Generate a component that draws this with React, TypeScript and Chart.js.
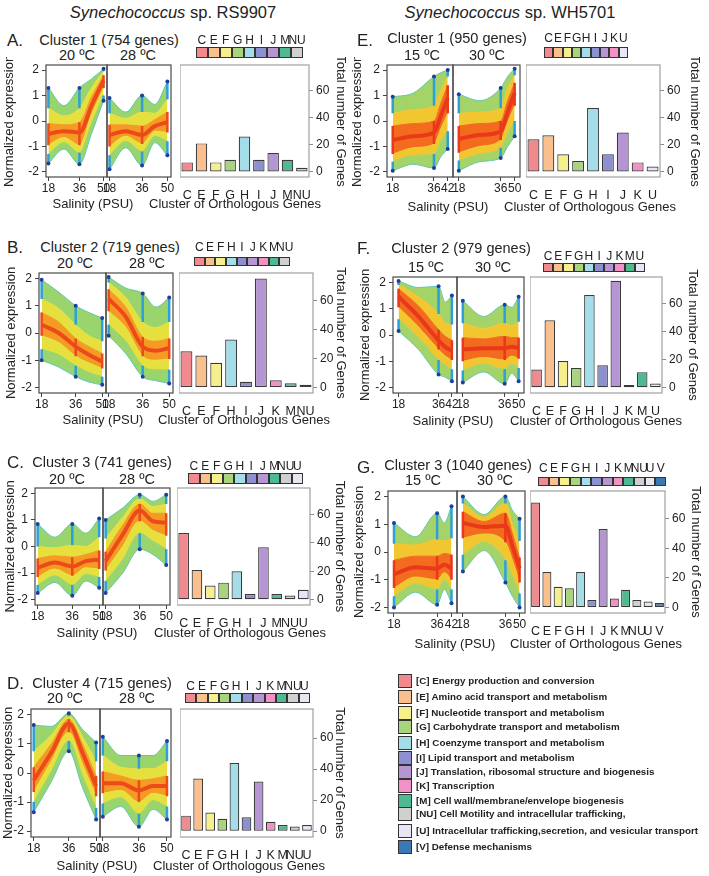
import React, { useEffect, useRef } from 'react';
import { Chart, registerables } from 'chart.js';

Chart.register(...registerables);
const FONT = '"Liberation Sans", Arial, Helvetica, sans-serif';
Chart.defaults.font.family = FONT;
Chart.defaults.color = '#222';

// ---------------- data ----------------
const xSalAD = [18, 27, 36, 43, 50];
const xSalEG = [18, 27, 36, 39, 42];
const tickSalAD = [18, 36, 50];
const tickSalEG = [18, 36, 42];
const lblSalAD = ['18', '36', '50'];
const lblSalEGLeft = ['18', '36', '42'];
const lblSalEGRight = ['18', '36', '50'];
const yExprTicks = [-2, -1, 0, 1, 2];
const yGeneTicks = [0, 20, 40, 60];

// envelope rows: min, low-outer, low-inner, centre, high-inner, high-outer, max
const envA20 = [
  [-1.67, -1.1, -1.7, -0.5, 0.8],
  [-1.3, -0.85, -1.25, -0.1, 1.0],
  [-0.95, -0.65, -0.95, 0.25, 1.3],
  [-0.5, -0.4, -0.45, 0.6, 1.6],
  [-0.1, -0.15, -0.05, 0.95, 1.8],
  [0.5, 0.2, 0.5, 1.3, 1.95],
  [1.3, 0.6, 1.3, 1.65, 2.05],
];
const envA28 = [
  [-1.9, -1.05, -1.75, -0.85, -1.35],
  [-1.35, -0.8, -1.2, -0.6, -0.8],
  [-1.0, -0.6, -0.9, -0.4, -0.45],
  [-0.55, -0.4, -0.55, -0.2, -0.05],
  [-0.15, -0.15, -0.2, 0.05, 0.35],
  [0.3, 0.1, 0.35, 0.3, 0.85],
  [0.9, 0.35, 1.0, 0.65, 1.55],
];
const envB20 = [
  [-1.0, -1.25, -1.6, -1.8, -1.9],
  [-0.6, -0.8, -1.2, -1.45, -1.6],
  [-0.1, -0.35, -0.85, -1.1, -1.3],
  [0.3, 0.0, -0.5, -0.8, -1.05],
  [0.75, 0.4, -0.2, -0.5, -0.75],
  [1.25, 0.9, 0.3, -0.1, -0.3],
  [1.95, 1.5, 1.0, 0.75, 0.55],
];
const envB28 = [
  [-0.1, -0.75, -1.6, -1.75, -1.85],
  [0.3, -0.3, -1.2, -1.35, -1.35],
  [0.8, 0.2, -0.85, -1.0, -0.95],
  [1.25, 0.6, -0.5, -0.65, -0.55],
  [1.6, 0.95, -0.15, -0.3, -0.2],
  [1.85, 1.3, 0.4, 0.2, 0.4],
  [2.05, 1.65, 1.45, 0.95, 1.3],
];
const envC20 = [
  [-1.75, -1.35, -1.85, -1.3, -1.55],
  [-1.45, -1.1, -1.45, -1.05, -1.15],
  [-1.15, -0.85, -1.1, -0.8, -0.85],
  [-0.8, -0.6, -0.75, -0.55, -0.5],
  [-0.45, -0.35, -0.4, -0.3, -0.15],
  [0.0, -0.05, 0.05, 0.0, 0.35],
  [0.85, 0.35, 0.85, 0.5, 1.05],
];
const envC28 = [
  [-1.75, -1.0, -0.1, -0.3, -0.7],
  [-1.3, -0.5, 0.5, 0.2, -0.1],
  [-0.9, 0.0, 0.95, 0.6, 0.4],
  [-0.55, 0.45, 1.35, 0.95, 0.9],
  [-0.2, 0.8, 1.6, 1.25, 1.25],
  [0.3, 1.1, 1.8, 1.5, 1.6],
  [1.0, 1.45, 1.95, 1.7, 1.95],
];
const envD20 = [
  [-1.35, -0.3, 0.75, -0.5, -1.6],
  [-1.0, 0.05, 1.1, -0.1, -1.2],
  [-0.65, 0.4, 1.4, 0.3, -0.8],
  [-0.25, 0.7, 1.7, 0.7, -0.45],
  [0.2, 1.0, 1.85, 1.0, -0.1],
  [0.75, 1.3, 1.95, 1.25, 0.4],
  [1.65, 1.6, 2.05, 1.5, 1.05],
];
const envD28 = [
  [-1.5, -1.15, -1.85, -1.25, -1.6],
  [-1.05, -0.85, -1.4, -0.95, -1.15],
  [-0.7, -0.6, -1.0, -0.7, -0.8],
  [-0.35, -0.35, -0.6, -0.45, -0.45],
  [0.05, -0.1, -0.25, -0.2, -0.1],
  [0.6, 0.2, 0.15, 0.15, 0.4],
  [1.25, 0.6, 0.6, 0.6, 1.1],
];
const envE15 = [
  [-1.95, -1.7, -1.85, -1.4, -1.1],
  [-1.6, -1.35, -1.3, -0.8, -0.4],
  [-1.3, -1.05, -0.9, -0.3, 0.3],
  [-0.75, -0.6, -0.45, 0.2, 0.9],
  [-0.2, -0.1, 0.0, 0.7, 1.4],
  [0.3, 0.45, 0.6, 1.2, 1.75],
  [0.95, 1.1, 1.75, 1.9, 2.0],
];
const envE30 = [
  [-1.95, -1.6, -1.45, -1.0, -0.6],
  [-1.55, -1.3, -1.05, -0.5, 0.0],
  [-1.25, -1.0, -0.75, -0.05, 0.6],
  [-0.7, -0.55, -0.4, 0.35, 1.1],
  [-0.2, -0.1, 0.0, 0.8, 1.5],
  [0.3, 0.35, 0.5, 1.3, 1.8],
  [1.05, 0.8, 1.3, 1.75, 2.05],
];
const envF15 = [
  [0.15, -0.55, -1.5, -1.6, -1.75],
  [0.6, -0.1, -0.95, -1.15, -1.3],
  [1.05, 0.3, -0.55, -0.8, -0.95],
  [1.45, 0.7, -0.2, -0.45, -0.6],
  [1.75, 1.1, 0.2, -0.05, -0.2],
  [1.9, 1.45, 0.8, 0.45, 0.4],
  [2.05, 1.8, 1.85, 1.25, 1.5],
];
const envF30 = [
  [-1.8, -1.4, -1.85, -1.45, -1.75],
  [-1.35, -1.1, -1.3, -1.1, -1.25],
  [-1.0, -0.85, -0.95, -0.8, -0.9],
  [-0.55, -0.5, -0.5, -0.45, -0.5],
  [-0.1, -0.15, -0.05, -0.1, -0.1],
  [0.45, 0.25, 0.45, 0.35, 0.5],
  [1.3, 0.7, 1.15, 1.05, 1.45],
];
const envG15 = [
  [-2.0, -1.45, -1.9, -1.35, -1.85],
  [-1.6, -1.15, -1.35, -1.0, -1.35],
  [-1.3, -0.9, -1.0, -0.75, -1.0],
  [-0.8, -0.55, -0.6, -0.45, -0.6],
  [-0.3, -0.15, -0.15, -0.05, -0.1],
  [0.3, 0.25, 0.45, 0.4, 0.5],
  [1.05, 0.55, 1.4, 1.05, 1.65],
];
const envG30 = [
  [-0.7, 0.05, -1.1, -1.6, -2.0],
  [-0.1, 0.35, -0.3, -0.9, -1.5],
  [0.5, 0.65, 0.35, -0.3, -1.1],
  [1.05, 0.9, 0.95, 0.2, -0.6],
  [1.45, 1.1, 1.4, 0.65, -0.2],
  [1.75, 1.25, 1.75, 1.0, 0.4],
  [2.0, 1.35, 2.0, 1.5, 1.2],
];

const catA = ['C', 'E', 'F', 'G', 'H', 'I', 'J', 'M', 'NU'];
const cntA = [7, 21, 7, 9, 26, 9, 14, 9, 3];
const catB = ['C', 'E', 'F', 'H', 'I', 'J', 'K', 'M', 'NU'];
const cntB = [25, 22, 17, 33, 4, 75, 5, 3, 2];
const catC = ['C', 'E', 'F', 'G', 'H', 'I', 'J', 'M', 'NU', 'U'];
const cntC = [47, 21, 10, 12, 20, 4, 37, 4, 3, 7];
const catD = ['C', 'E', 'F', 'G', 'H', 'I', 'J', 'K', 'M', 'NU', 'U'];
const cntD = [10, 34, 12, 8, 44, 9, 32, 6, 4, 3, 4];
const catE = ['C', 'E', 'F', 'G', 'H', 'I', 'J', 'K', 'U'];
const cntE = [24, 27, 13, 8, 47, 13, 29, 7, 4];
const catF = ['C', 'E', 'F', 'G', 'H', 'I', 'J', 'K', 'M', 'U'];
const cntF = [13, 48, 19, 14, 66, 16, 76, 2, 11, 3];
const catG = ['C', 'E', 'F', 'G', 'H', 'I', 'J', 'K', 'M', 'NU', 'U', 'V'];
const cntG = [71, 24, 14, 13, 24, 5, 53, 6, 12, 5, 4, 3];

const legendCodes = ['C', 'E', 'F', 'G', 'H', 'I', 'J', 'K', 'M', 'NU', 'U', 'V'];
const legendNames = [
  'Energy production and conversion',
  'Amino acid transport and metabolism',
  'Nucleotide transport and metabolism',
  'Carbohydrate transport and metabolism',
  'Coenzyme transport and metabolism',
  'Lipid transport and metabolism',
  'Translation, ribosomal structure and biogenesis',
  'Transcription',
  'Cell wall/membrane/envelope biogenesis',
  'Cell Motility and intracellular trafficking,',
  'Intracellular trafficking,secretion, and vesicular transport',
  'Defense mechanisms',
];

// ---------------- styles ----------------
const COG: Record<string, string> = {
  C: '#f08a8f', E: '#f9c08e', F: '#f6ef8e', G: '#a8d47e', H: '#a4dde8', I: '#8c8fd0',
  J: '#b696d2', K: '#f191c5', M: '#4fba91', NU: '#d0d0d0', U: '#e6e6f5', V: '#3c78b4',
};
const PAL_COOL = { outer: '#9ad46c', mid: '#e6e03e', inner: '#f59a22', core: '#ec4a1b' };
const PAL_WARM = { outer: '#a4d468', mid: '#f2c62e', inner: '#f36b1e', core: '#e9381a' };
const EDGE = '#63c6b2';
const STREAK_END = '#2f9fd8';
const DOT = '#1e3f9c';
const TXT = '#222';

const framePlugin = {
  id: 'frame',
  afterDatasetsDraw(chart: any, _a: any, opts: any) {
    const { ctx, chartArea } = chart;
    ctx.save();
    ctx.strokeStyle = opts.color || '#444';
    ctx.lineWidth = opts.width || 1.2;
    ctx.strokeRect(chartArea.left, chartArea.top, chartArea.right - chartArea.left, chartArea.bottom - chartArea.top);
    ctx.restore();
  },
};

function lineConfig(env: number[][], xs: number[], tickVals: number[], tickLbls: string[], xMin: number, xMax: number,
  showY: boolean, yAxisW: number, padL: number, padR: number, pal: any): any {
  const [mn, g1, y1, md, y2, g2, mx] = env;
  const pts = (arr: number[]) => xs.map((x, i) => ({ x, y: arr[i] }));
  const sample = [0, 2, 4];
  const streak = (lo: number[], hi: number[]) =>
    sample.flatMap((i) => [{ x: xs[i], y: lo[i] }, { x: xs[i], y: hi[i] }, { x: xs[i], y: null }]);
  const dotR = (c: any) => (sample.includes(c.dataIndex) ? 2 : 0);
  const band = (arr: number[], color: string, fill: any, extra: any = {}) => ({
    data: pts(arr), borderColor: color, backgroundColor: color, borderWidth: 1, fill,
    pointRadius: 0, cubicInterpolationMode: 'monotone', order: 10, ...extra,
  });
  const datasets = [
    band(mn, EDGE, false),
    band(g1, pal.outer, '-1'),
    band(y1, pal.mid, '-1'),
    band(md, pal.inner, '-1'),
    band(y2, pal.inner, '-1'),
    band(g2, pal.mid, '-1'),
    band(mx, pal.outer, '-1', { borderColor: EDGE }),
    { data: pts(md), borderColor: pal.core, borderWidth: 4, fill: false, pointRadius: 0, cubicInterpolationMode: 'monotone', order: 5 },
    { data: streak(mn, g1), borderColor: STREAK_END, borderWidth: 2.5, fill: false, pointRadius: 0, spanGaps: false, order: 3 },
    { data: streak(g2, mx), borderColor: STREAK_END, borderWidth: 2.5, fill: false, pointRadius: 0, spanGaps: false, order: 3 },
    { data: streak(y1, y2), borderColor: pal.core, borderWidth: 2.5, fill: false, pointRadius: 0, spanGaps: false, order: 3 },
    { data: pts(mn), showLine: false, pointRadius: dotR, pointBackgroundColor: DOT, pointBorderWidth: 0, order: 1 },
    { data: pts(mx), showLine: false, pointRadius: dotR, pointBackgroundColor: DOT, pointBorderWidth: 0, order: 1 },
  ];
  return {
    type: 'line',
    data: { datasets },
    plugins: [framePlugin],
    options: {
      responsive: false, animation: false, events: [],
      layout: { padding: { top: 8, left: padL, right: padR, bottom: 0 }, autoPadding: false },
      plugins: { legend: { display: false }, tooltip: { enabled: false }, frame: { color: '#4a4a4a', width: 1.2 } },
      scales: {
        x: {
          type: 'linear', min: xMin, max: xMax,
          afterBuildTicks: (s: any) => { s.ticks = tickVals.map((v) => ({ value: v })); },
          ticks: { callback: (_v: any, i: number) => tickLbls[i], font: { size: 12 }, color: TXT, padding: 0, maxRotation: 0, autoSkip: false },
          grid: { drawOnChartArea: false, drawTicks: true, tickLength: 4, color: '#444' },
          border: { display: false },
          afterFit: (s: any) => { s.height = 22; s.paddingLeft = 0; s.paddingRight = 0; },
        },
        y: {
          type: 'linear', min: -2.2, max: 2.2, display: showY, position: 'left',
          afterBuildTicks: (s: any) => { s.ticks = yExprTicks.map((v) => ({ value: v })); },
          ticks: { font: { size: 12 }, color: TXT, padding: 3 },
          grid: { drawOnChartArea: false, drawTicks: true, tickLength: 4, color: '#444' },
          border: { display: false },
          title: { display: showY, text: 'Normalized expression', font: { size: 13 }, color: TXT, padding: { top: 0, bottom: 0 } },
          afterFit: (s: any) => { s.width = yAxisW; s.paddingTop = 0; s.paddingBottom = 0; },
        },
      },
    },
  };
}

function barConfig(cats: string[], cnts: number[], axisW: number): any {
  return {
    type: 'bar',
    data: {
      labels: cats,
      datasets: [{
        data: cnts, backgroundColor: cats.map((c) => COG[c]), borderColor: '#3a3a3a', borderWidth: 1.2,
        borderSkipped: false, barPercentage: 0.8, categoryPercentage: 1,
      }],
    },
    plugins: [framePlugin],
    options: {
      responsive: false, animation: false, events: [],
      layout: { padding: { top: 8, left: 0, right: 0, bottom: 0 }, autoPadding: false },
      plugins: { legend: { display: false }, tooltip: { enabled: false }, frame: { color: '#a0a0a0', width: 1.2 } },
      scales: {
        x: {
          grid: { display: false }, border: { display: false },
          ticks: { autoSkip: false, maxRotation: 0, padding: 3, font: { size: 12.5 }, color: TXT },
          afterFit: (s: any) => { s.height = 22; s.paddingLeft = 0; s.paddingRight = 0; },
        },
        y: {
          position: 'right', min: -3.75, max: 78.75,
          afterBuildTicks: (s: any) => { s.ticks = yGeneTicks.map((v) => ({ value: v })); },
          grid: { drawOnChartArea: false, drawTicks: true, tickLength: 4, color: '#8a8a8a' },
          border: { display: false },
          ticks: { padding: 3, font: { size: 12 }, color: TXT },
          title: { display: true, text: 'Total number of Genes', font: { size: 13 }, color: TXT, padding: { top: 0, bottom: 0 } },
          afterFit: (s: any) => { s.width = axisW; s.paddingTop = 0; s.paddingBottom = 0; },
        },
      },
    },
  };
}

// ---------------- layout ----------------
const layA = { label: [7, 40], title: [109, 40], temps: [[77, 55], [138, 55]], box: { l: 46, m: 107, r: 171, t: 65, b: 177 }, yTitleX: 10, bar: { l: 180, r: 309, titleX: 340 }, strip: { l: 196, r: 303, t: 47, b: 58, ly: 40 }, axT: 203, salX: 93, cogX: 235 };
const layB = { label: [7, 247], title: [110, 247], temps: [[75, 263], [147, 263]], box: { l: 39, m: 106, r: 173, t: 273, b: 393 }, yTitleX: 12, bar: { l: 179, r: 313, titleX: 340 }, strip: { l: 194, r: 290, t: 257, b: 266, ly: 247 }, axT: 419, salX: 103, cogX: 244 };
const layC = { label: [7, 462], title: [102, 462], temps: [[67, 479], [137, 479]], box: { l: 35, m: 103, r: 170, t: 488, b: 605 }, yTitleX: 11, bar: { l: 177, r: 310, titleX: 339 }, strip: { l: 188, r: 303, t: 473, b: 484, ly: 466 }, axT: 632, salX: 97, cogX: 240 };
const layD = { label: [7, 683], title: [102, 683], temps: [[65, 698], [137, 698]], box: { l: 31, m: 100, r: 171, t: 709, b: 837 }, yTitleX: 9, bar: { l: 180, r: 313, titleX: 339 }, strip: { l: 185, r: 310, t: 693, b: 703, ly: 686 }, axT: 865, salX: 97, cogX: 239 };
const layE = { label: [357, 40], title: [457, 38], temps: [[422, 55], [487, 55]], box: { l: 387, m: 453, r: 520, t: 65, b: 177 }, yTitleX: 358, bar: { l: 526, r: 660, titleX: 694 }, strip: { l: 544, r: 628, t: 47, b: 58, ly: 38 }, axT: 206, salX: 448, cogX: 590 };
const layF = { label: [357, 248], title: [461, 248], temps: [[426, 267], [493, 267]], box: { l: 393, m: 457, r: 524, t: 277, b: 393 }, yTitleX: 366, bar: { l: 530, r: 662, titleX: 692 }, strip: { l: 543, r: 645, t: 263, b: 272, ly: 256 }, axT: 420, salX: 453, cogX: 596 };
const layG = { label: [357, 467], title: [458, 465], temps: [[423, 480], [495, 480]], box: { l: 388, m: 457, r: 525, t: 491, b: 613 }, yTitleX: 360, bar: { l: 530, r: 665, titleX: 695 }, strip: { l: 538, r: 666, t: 477, b: 486, ly: 468 }, axT: 643, salX: 455, cogX: 596 };

const legendY = [681, 697, 713, 727, 743, 758, 772, 786, 801, 814, 831, 847];

const AD = { xs: xSalAD, ticks: tickSalAD, lblL: lblSalAD, lblR: lblSalAD, xMin: 16.6, xMax: 52 };
const EG = { xs: xSalEG, ticks: tickSalEG, lblL: lblSalEGLeft, lblR: lblSalEGRight, xMin: 15.5, xMax: 44.3 };

const PANELS = [
  { id: 'A', title: 'Cluster 1 (754 genes)', temps: ['20 ºC', '28 ºC'], envL: envA20, envR: envA28, sal: AD, cats: catA, cnts: cntA, lay: layA, pal: PAL_COOL },
  { id: 'B', title: 'Cluster 2 (719 genes)', temps: ['20 ºC', '28 ºC'], envL: envB20, envR: envB28, sal: AD, cats: catB, cnts: cntB, lay: layB, pal: PAL_COOL },
  { id: 'C', title: 'Cluster 3 (741 genes)', temps: ['20 ºC', '28 ºC'], envL: envC20, envR: envC28, sal: AD, cats: catC, cnts: cntC, lay: layC, pal: PAL_COOL },
  { id: 'D', title: 'Cluster 4 (715 genes)', temps: ['20 ºC', '28 ºC'], envL: envD20, envR: envD28, sal: AD, cats: catD, cnts: cntD, lay: layD, pal: PAL_COOL },
  { id: 'E', title: 'Cluster 1 (950 genes)', temps: ['15 ºC', '30 ºC'], envL: envE15, envR: envE30, sal: EG, cats: catE, cnts: cntE, lay: layE, pal: PAL_WARM },
  { id: 'F', title: 'Cluster 2 (979 genes)', temps: ['15 ºC', '30 ºC'], envL: envF15, envR: envF30, sal: EG, cats: catF, cnts: cntF, lay: layF, pal: PAL_WARM },
  { id: 'G', title: 'Cluster 3 (1040 genes)', temps: ['15 ºC', '30 ºC'], envL: envG15, envR: envG30, sal: EG, cats: catG, cnts: cntG, lay: layG, pal: PAL_WARM },
];

// ---------------- components ----------------
function Txt({ x, y, children, size = 13, weight = 400, align = 'center' }: any) {
  return (
    <div style={{
      position: 'absolute', left: x, top: y,
      transform: align === 'center' ? 'translate(-50%, -50%)' : 'translate(0, -50%)',
      fontSize: size, fontWeight: weight, whiteSpace: 'nowrap', lineHeight: 1, color: TXT,
    }}>{children}</div>
  );
}

function ChartCanvas({ left, top, width, height, make }: any) {
  const ref = useRef<HTMLCanvasElement>(null);
  useEffect(() => {
    const chart = new Chart(ref.current as HTMLCanvasElement, make());
    return () => chart.destroy();
  }, []);
  return <canvas ref={ref} width={width} height={height} style={{ position: 'absolute', left, top, width, height }} />;
}

function Panel({ p }: any) {
  const L = p.lay;
  const bx = L.box;
  const s = p.sal;
  const lcL = Math.round(L.yTitleX - 7.8);
  const yAxisW = bx.l - lcL;
  const top = bx.t - 8;
  const h = bx.b - bx.t + 8 + 22;
  const barAxisW = Math.round(L.bar.titleX + 7.8 - L.bar.r);
  const st = L.strip;
  const bw = (st.r - st.l) / p.cats.length;
  return (
    <>
      <Txt x={L.label[0]} y={L.label[1]} size={17} align="left">{p.id}.</Txt>
      <Txt x={L.title[0]} y={L.title[1]} size={14.5}>{p.title}</Txt>
      <Txt x={L.temps[0][0]} y={L.temps[0][1]} size={14.5}>{p.temps[0]}</Txt>
      <Txt x={L.temps[1][0]} y={L.temps[1][1]} size={14.5}>{p.temps[1]}</Txt>
      <ChartCanvas left={lcL} top={top} width={bx.m - lcL + 10} height={h}
        make={() => lineConfig(p.envL, s.xs, s.ticks, s.lblL, s.xMin, s.xMax, true, yAxisW, 0, 10, p.pal)} />
      <ChartCanvas left={bx.m - 10} top={top} width={bx.r - bx.m + 20} height={h}
        make={() => lineConfig(p.envR, s.xs, s.ticks, s.lblR, s.xMin, s.xMax, false, 0, 10, 10, p.pal)} />
      <ChartCanvas left={L.bar.l} top={top} width={L.bar.r - L.bar.l + barAxisW} height={h}
        make={() => barConfig(p.cats, p.cnts, barAxisW)} />
      {p.cats.map((c: string, i: number) => (
        <div key={'b' + c} style={{
          position: 'absolute', left: st.l + i * bw, top: st.t, width: bw, height: st.b - st.t,
          boxSizing: 'border-box', border: '1.3px solid #333', background: COG[c],
        }} />
      ))}
      {p.cats.map((c: string, i: number) => (
        <Txt key={'l' + c} x={st.l + (i + 0.5) * bw} y={st.ly} size={12}>{c}</Txt>
      ))}
      <Txt x={L.salX} y={L.axT} size={13}>Salinity (PSU)</Txt>
      <Txt x={L.cogX} y={L.axT} size={13}>Cluster of Orthologous Genes</Txt>
    </>
  );
}

export default function App() {
  return (
    <div style={{ position: 'absolute', left: 0, top: 0, width: 709, height: 876, background: '#fff', fontFamily: FONT, overflow: 'hidden' }}>
      <Txt x={173} y={12} size={16.5}><i>Synechococcus</i> sp. RS9907</Txt>
      <Txt x={510} y={12} size={16.5}><i>Synechococcus</i> sp. WH5701</Txt>
      {PANELS.map((p) => <Panel key={p.id} p={p} />)}
      {legendCodes.map((c, i) => (
        <React.Fragment key={'lg' + c}>
          <div style={{
            position: 'absolute', left: 398, top: legendY[i] - 7, width: 14, height: 14,
            boxSizing: 'border-box', border: '1.3px solid #333', background: COG[c],
          }} />
          <Txt x={416} y={legendY[i]} size={9.8} weight={700} align="left">[{c}] {legendNames[i]}</Txt>
        </React.Fragment>
      ))}
    </div>
  );
}
